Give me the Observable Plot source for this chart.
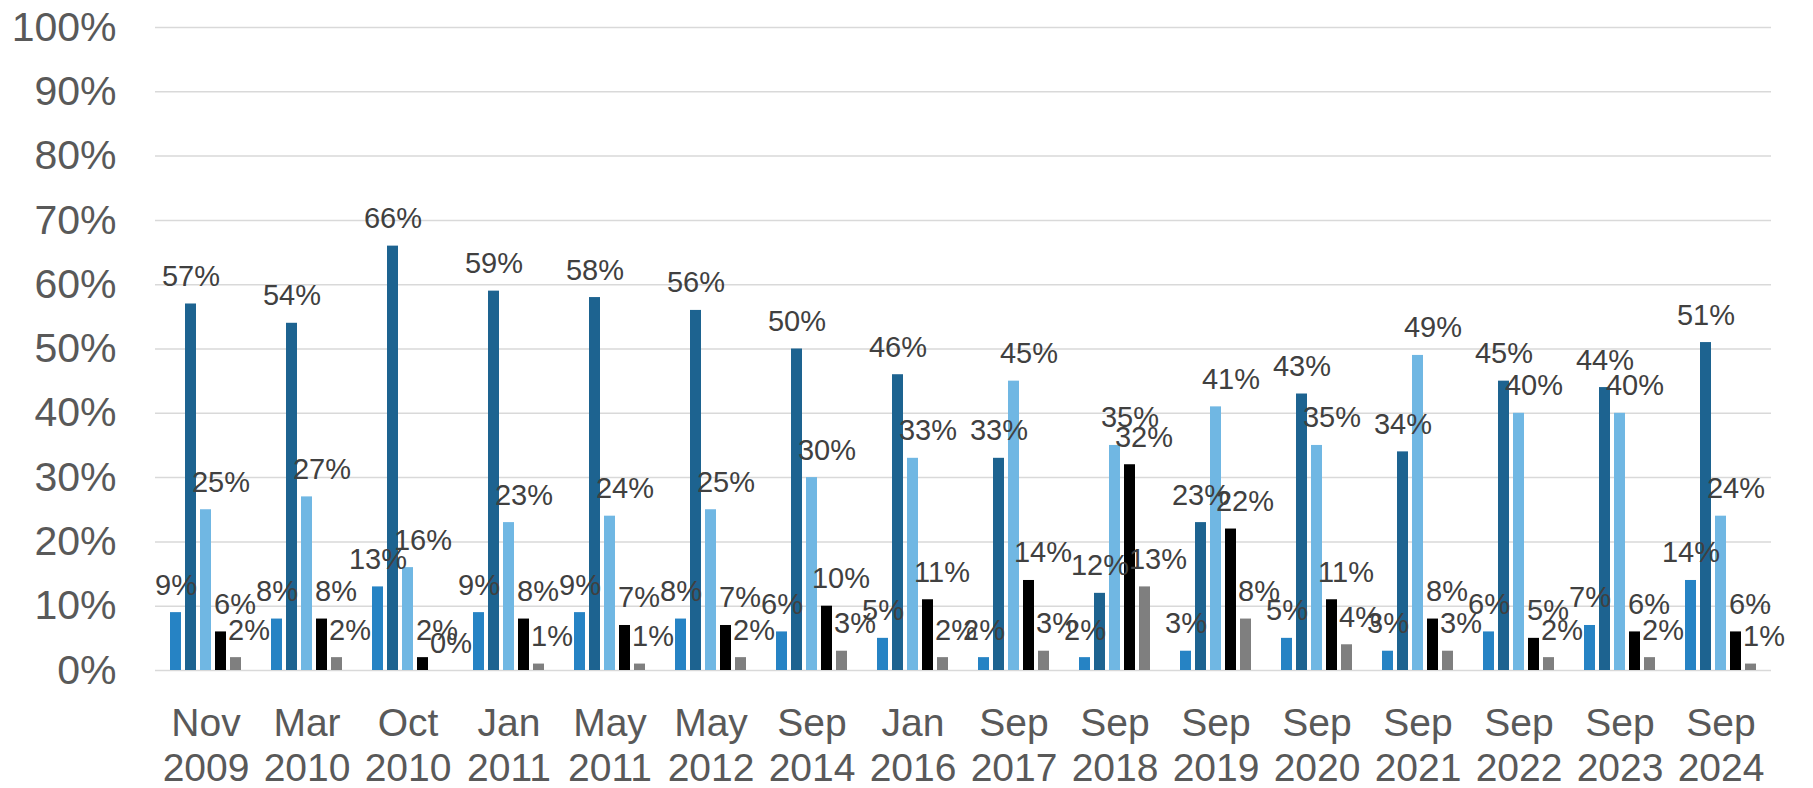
<!DOCTYPE html>
<html>
<head>
<meta charset="utf-8">
<script src="https://cdn.jsdelivr.net/npm/d3@7"></script>
<script src="https://cdn.jsdelivr.net/npm/@observablehq/plot@0.6"></script>
<style>
  html, body { margin: 0; padding: 0; background: #ffffff; }
  #chart { width: 1813px; height: 788px; }
</style>
</head>
<body>
<div id="chart"></div>
<script>
// Survey dates (categories)
const dates = ["Nov 2009","Mar 2010","Oct 2010","Jan 2011","May 2011","May 2012","Sep 2014","Jan 2016",
               "Sep 2017","Sep 2018","Sep 2019","Sep 2020","Sep 2021","Sep 2022","Sep 2023","Sep 2024"];

// Series keys (no legend in the original)
const seriesKeys = ["s1","s2","s3","s4","s5"];

// Series values (%)
const values1 = [9, 8, 13, 9, 9, 8, 6, 5, 2, 2, 3, 5, 3, 6, 7, 14];
const values2 = [57, 54, 66, 59, 58, 56, 50, 46, 33, 12, 23, 43, 34, 45, 44, 51];
const values3 = [25, 27, 16, 23, 24, 25, 30, 33, 45, 35, 41, 35, 49, 40, 40, 24];
const values4 = [6, 8, 2, 8, 7, 7, 10, 11, 14, 32, 22, 11, 8, 5, 6, 6];
const values5 = [2, 2, 0, 1, 1, 2, 3, 2, 3, 13, 8, 4, 3, 2, 2, 1];

// Series colours
const seriesColors = ["#2683C4", "#1D6390", "#70B7E3", "#000000", "#7F7F7F"];

// Y tick values
const yTicks = [0, 10, 20, 30, 40, 50, 60, 70, 80, 90, 100];

const seriesValues = [values1, values2, values3, values4, values5];
const data = [];
dates.forEach((date, i) => {
  seriesKeys.forEach((key, j) => {
    data.push({date, key, value: seriesValues[j][i]});
  });
});

// data labels: first two series centred, the others sit slightly to the right
const labelMarks = seriesKeys.map((key, j) =>
  Plot.text(data.filter(d => d.key === key), {
    fx: "date", x: "key", y: "value",
    text: d => d.value + "%",
    dy: -18, dx: [0, 0, 15, 14, 13][j],
    lineAnchor: "bottom", fontSize: 29, fill: "#404040"
  })
);

const chart = Plot.plot({
  width: 1813,
  height: 788,
  marginLeft: 154,
  marginRight: 42,
  marginTop: 27,
  marginBottom: 118,
  style: {fontFamily: "'Liberation Sans', Arial, sans-serif", background: "#ffffff", overflow: "visible"},
  fx: {domain: dates, padding: 0, axis: null, label: null},
  x: {domain: seriesKeys, paddingInner: 0.238, paddingOuter: 0.824, axis: null},
  y: {domain: [0, 100], axis: null},
  color: {domain: seriesKeys, range: seriesColors},
  marks: [
    Plot.gridY(yTicks, {stroke: "#D9D9D9", strokeOpacity: 1, strokeWidth: 1.5}),
    Plot.axisY(yTicks, {anchor: "left", tickSize: 0, tickPadding: 39, tickFormat: d => d + "%", fontSize: 41, fill: "#595959", label: null}),
    Plot.axisFx({anchor: "bottom", tickSize: 0, tickPadding: 33, tickFormat: d => d.replace(" ", "\n"), fontSize: 39, lineHeight: 1.16, fill: "#595959", label: null}),
    Plot.barY(data, {fx: "date", x: "key", y: "value", fill: "key"}),
    ...labelMarks
  ]
});
document.getElementById("chart").appendChild(chart);
</script>
</body>
</html>
